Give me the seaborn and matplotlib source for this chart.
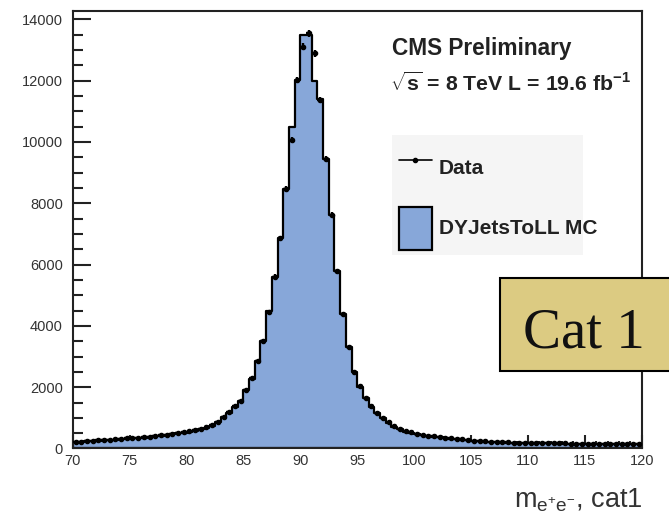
import numpy as np
import pandas as pd
import matplotlib
matplotlib.use("Agg")
import matplotlib.pyplot as plt
from matplotlib.patches import Rectangle, Patch
from matplotlib.lines import Line2D
from matplotlib.ticker import MultipleLocator
import seaborn as sns

# ---- data (0.5 GeV bins, 70-120 GeV) ----
bin_lo, bin_hi, bin_w = 70.0, 120.0, 0.5
mc_counts = [
    200, 210, 230, 240, 250, 265, 280, 290, 300, 315,
    330, 340, 355, 375, 395, 420, 445, 470, 495, 520,
    545, 575, 620, 670, 750, 860, 1030, 1160, 1360, 1540,
    1900, 2280, 2840, 3500, 4480, 5610, 6860, 8460, 10500, 12020,
    13500, 13500, 12000, 11400, 9450, 7620, 5780, 4400, 3320, 2500,
    2020, 1640, 1360, 1150, 980, 840, 710, 630, 550, 520,
    470, 440, 410, 390, 370, 345, 325, 305, 290, 270,
    250, 235, 225, 215, 205, 200, 195, 190, 185, 180,
    175, 172, 170, 167, 165, 162, 160, 158, 156, 155,
    153, 152, 150, 148, 147, 146, 145, 143, 142, 140,
]
data_counts = [
    215, 225, 240, 250, 265, 280, 290, 300, 315, 330,
    340, 350, 370, 390, 410, 430, 455, 480, 500, 525,
    555, 590, 630, 690, 760, 870, 1040, 1180, 1370, 1560,
    1910, 2290, 2850, 3500, 4460, 5610, 6860, 8460, 10070, 12020,
    13100, 13540, 12890, 11370, 9450, 7620, 5780, 4380, 3320, 2500,
    2030, 1650, 1370, 1160, 990, 850, 720, 640, 560, 530,
    480, 450, 420, 400, 380, 355, 335, 315, 300, 280,
    260, 245, 232, 222, 212, 205, 200, 195, 190, 185,
    180, 177, 174, 171, 169, 166, 164, 162, 160, 158,
    157, 155, 153, 152, 150, 149, 148, 146, 145, 143,
]
series_labels = ["Data", "DYJetsToLL MC"]

centers = bin_lo + bin_w * (np.arange(len(mc_counts)) + 0.5)
df = pd.DataFrame({"mass": centers, "mc": mc_counts, "data": data_counts})

sns.set_style("ticks")
plt.rcParams["font.family"] = ["Liberation Sans", "DejaVu Sans"]
plt.rcParams["mathtext.fontset"] = "custom"
plt.rcParams["mathtext.rm"] = "Liberation Sans"
plt.rcParams["mathtext.bf"] = "Liberation Sans:bold"
plt.rcParams["mathtext.it"] = "Liberation Sans:italic"

W, H = 669, 517
fig = plt.figure(figsize=(W / 100, H / 100), dpi=100)
ax = fig.add_axes([0.1087, 0.1325, 0.8505, 0.8462])

fill_col = "#87a7d9"
sns.histplot(data=df, x="mass", weights="mc", binwidth=bin_w,
             binrange=(bin_lo, bin_hi), element="step",
             fill=True, color=fill_col, alpha=1.0, edgecolor="black",
             linewidth=1.6, ax=ax)

ax.errorbar(df["mass"], df["data"], xerr=bin_w / 2, yerr=np.sqrt(df["data"]),
            fmt="o", ms=3, color="black", elinewidth=1.7, capsize=0, zorder=5)

ax.set_xlim(70, 120)
ax.set_ylim(0, 14270)
ax.set_xlabel("")
ax.set_ylabel("")
ax.xaxis.set_major_locator(MultipleLocator(5))
ax.xaxis.set_minor_locator(MultipleLocator(1))
ax.yaxis.set_major_locator(MultipleLocator(2000))
ax.yaxis.set_minor_locator(MultipleLocator(500))
ax.tick_params(axis="both", which="both", direction="in", colors="#222222",
               labelcolor="#333333", labelsize=10.5)
ax.tick_params(axis="y", which="major", length=13, width=1.5, pad=7)
ax.tick_params(axis="y", which="minor", length=7, width=1.5)
ax.tick_params(axis="x", which="major", length=9.5, width=1.5, pad=4)
ax.tick_params(axis="x", which="minor", length=5, width=1.5)
for s in ax.spines.values():
    s.set_visible(True)
    s.set_linewidth(1.5)
    s.set_color("#222222")

def fx(px):
    return px / W

def fy(py):
    return 1 - py / H

# Texts
fig.text(fx(392), fy(48), "CMS Preliminary", fontsize=16.3, fontweight="bold",
         color="#222222", va="center", ha="left")
fig.text(fx(390), fy(83), r"$\mathbf{\sqrt{s}}$ = 8 TeV L = 19.6 fb$^{\mathbf{-1}}$",
         fontsize=15.3, fontweight="bold", color="#222222", va="center", ha="left")

# legend background box (text overflows it, as in reference)
fig.patches.append(Rectangle((fx(391.7), fy(255)), (583.3 - 391.7) / W, 120 / H,
                             transform=fig.transFigure, facecolor="#f5f5f5",
                             edgecolor="none", zorder=1))
handles = [Line2D([0], [0], color="black", marker="o", ms=3, lw=1.2),
           Patch(facecolor=fill_col, edgecolor="black", linewidth=1.6)]
fs_leg = 15
px_per_fs = fs_leg / 72 * 100
leg = fig.legend(handles, series_labels, loc="upper left",
                 bbox_to_anchor=(fx(399), fy(146.5)),
                 frameon=False, prop={"weight": "bold", "size": fs_leg},
                 handlelength=33 / px_per_fs, handleheight=2.8,
                 handletextpad=7 / px_per_fs, labelspacing=17 / px_per_fs,
                 borderpad=0, borderaxespad=0)
leg.set_zorder(3)
for t in leg.get_texts():
    t.set_color("#222222")

fig.text(fx(643), fy(508), r"m$_{\mathrm{e^{+}e^{-}}}$, cat1", fontsize=19.5,
         color="#333333", ha="right", va="baseline")

# Cat 1 box
fig.patches.append(Rectangle((fx(500), fy(371)), 175 / W, 93 / H,
                             transform=fig.transFigure, facecolor="#dccb82",
                             edgecolor="black", linewidth=1.5, zorder=10))
fig.text(fx(584), fy(348), "Cat 1", fontsize=41, family="Liberation Serif",
         color="#111111", ha="center", va="baseline", zorder=11)

fig.savefig("out.png", dpi=100)
